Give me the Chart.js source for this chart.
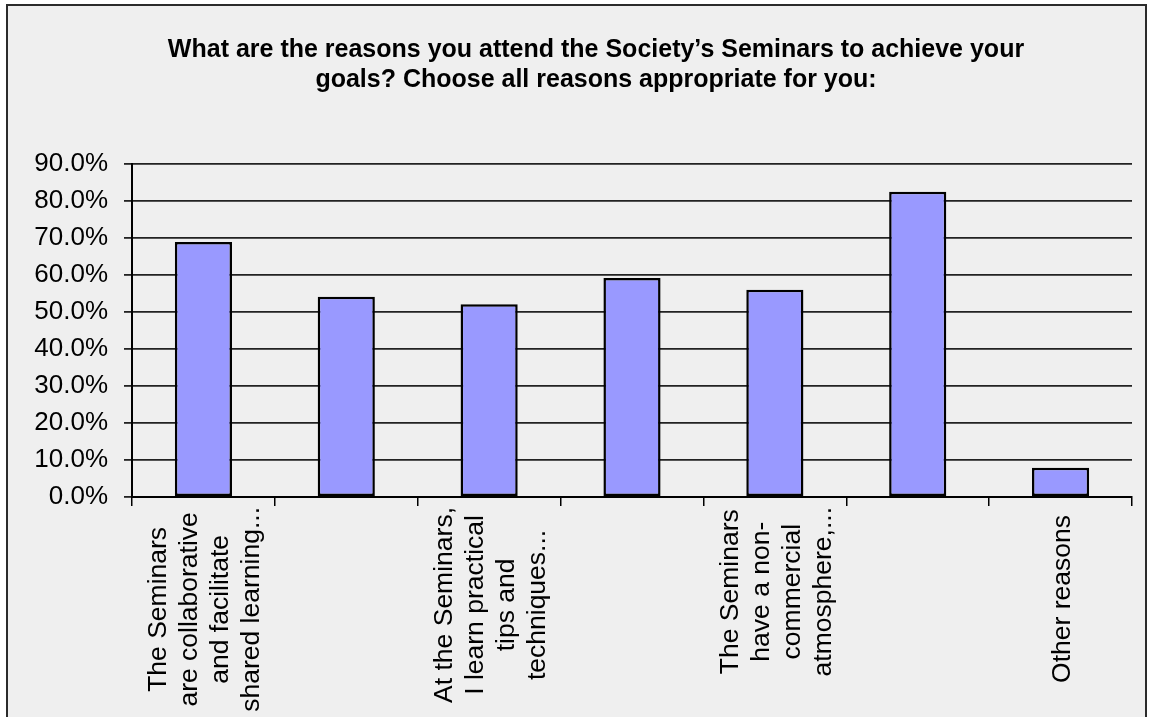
<!DOCTYPE html>
<html>
<head>
<meta charset="utf-8">
<script src="https://cdn.jsdelivr.net/npm/chart.js@4.4.1/dist/chart.umd.min.js"></script>
<style>
  html, body { margin: 0; padding: 0; background: #ffffff; }
  #wrap { width: 1153px; height: 717px; }
</style>
</head>
<body>
<div id="wrap"><canvas id="reasonsChart" width="1153" height="717"></canvas></div>
<script>
// --- survey data ---
var titleLines = [
    'What are the reasons you attend the Society\u2019s Seminars to achieve your',
    'goals? Choose all reasons appropriate for you:'
];
// every second category label is skipped in the original picture
var categories = [
    ['The Seminars', 'are collaborative', 'and facilitate', 'shared learning...'],
    [''],
    ['At the Seminars,', 'I learn practical', 'tips and', 'techniques...'],
    [''],
    ['The Seminars', 'have a non-', 'commercial', 'atmosphere,...'],
    [''],
    ['Other reasons']
];
var percentValues = [68.9, 54.1, 52.1, 59.2, 56.0, 82.5, 7.9];
var yTickMax = 90;
var yTickStep = 10;

var FONT = '"Liberation Sans", Arial, sans-serif';

// frame + grey panel behind everything
var panelPlugin = {
    id: 'panel',
    beforeDraw: function (chart) {
        var ctx = chart.ctx;
        ctx.save();
        ctx.fillStyle = '#ffffff';
        ctx.fillRect(0, 0, chart.width, chart.height);
        ctx.fillStyle = '#efefef';
        ctx.fillRect(7, 5, 1139, chart.height);
        ctx.strokeStyle = '#2b2b2b';
        ctx.lineWidth = 2;
        ctx.strokeRect(7, 5, 1139, chart.height + 10);
        ctx.restore();
    }
};

// two-line bold title like the original
var titlePlugin = {
    id: 'bigTitle',
    afterDraw: function (chart) {
        var ctx = chart.ctx;
        ctx.save();
        ctx.font = 'bold 25px ' + FONT;
        ctx.fillStyle = '#000';
        ctx.textAlign = 'center';
        ctx.textBaseline = 'alphabetic';
        ctx.fillText(titleLines[0], 596, 57);
        ctx.fillText(titleLines[1], 596, 87);
        ctx.restore();
    }
};

// rotated category labels, lines centred on each other (Excel style)
var xLabelPlugin = {
    id: 'xLabels',
    afterDraw: function (chart) {
        var ctx = chart.ctx;
        var xScale = chart.scales.x;
        var lineH = 31;
        var top = xScale.top + 10;
        ctx.save();
        ctx.font = '26.5px ' + FONT;
        ctx.fillStyle = '#000';
        ctx.textAlign = 'center';
        ctx.textBaseline = 'middle';
        categories.forEach(function (lines, i) {
            if (!lines[0]) return;
            var cx = xScale.getPixelForValue(i);
            var blockW = 0;
            lines.forEach(function (l) { blockW = Math.max(blockW, ctx.measureText(l).width); });
            var cy = top + blockW / 2 + (lines.length === 1 ? 8 : 0);
            lines.forEach(function (l, j) {
                var off = (j - (lines.length - 1) / 2) * lineH;
                ctx.save();
                ctx.translate(cx + off + 2, cy);
                ctx.rotate(-Math.PI / 2);
                ctx.fillText(l, 0, 0);
                ctx.restore();
            });
        });
        ctx.restore();
    }
};

var ctx = document.getElementById('reasonsChart').getContext('2d');
var reasonsChart = new Chart(ctx, {
    type: 'bar',
    data: {
        labels: categories,
        datasets: [{
            data: percentValues,
            backgroundColor: '#9999ff',
            borderColor: '#000000',
            borderWidth: 2.5,
            borderSkipped: false,
            barPercentage: 0.4,
            categoryPercentage: 1.0
        }]
    },
    options: {
        responsive: false,
        animation: false,
        layout: { padding: { top: 164, left: 8, right: 21, bottom: 0 } },
        plugins: {
            legend: { display: false },
            title: { display: false },
            tooltip: { enabled: false }
        },
        scales: {
            x: {
                ticks: { display: false },
                grid: {
                    offset: true,
                    drawOnChartArea: false,
                    drawTicks: true,
                    tickLength: 9,
                    color: '#000',
                    lineWidth: 1.5
                },
                border: { display: true, color: '#000', width: 2 },
                afterFit: function (scale) { scale.height = 220; }
            },
            y: {
                min: 0,
                max: yTickMax,
                ticks: {
                    stepSize: yTickStep,
                    padding: 16,
                    color: '#000',
                    font: { family: FONT, size: 26 },
                    callback: function (v) { return v.toFixed(1) + '%'; }
                },
                grid: {
                    color: '#222',
                    lineWidth: 1.8,
                    tickLength: 8,
                    drawTicks: true
                },
                border: { display: true, color: '#000', width: 2 },
                afterFit: function (scale) { scale.width = 124; }
            }
        }
    },
    plugins: [panelPlugin, titlePlugin, xLabelPlugin]
});
</script>
</body>
</html>
